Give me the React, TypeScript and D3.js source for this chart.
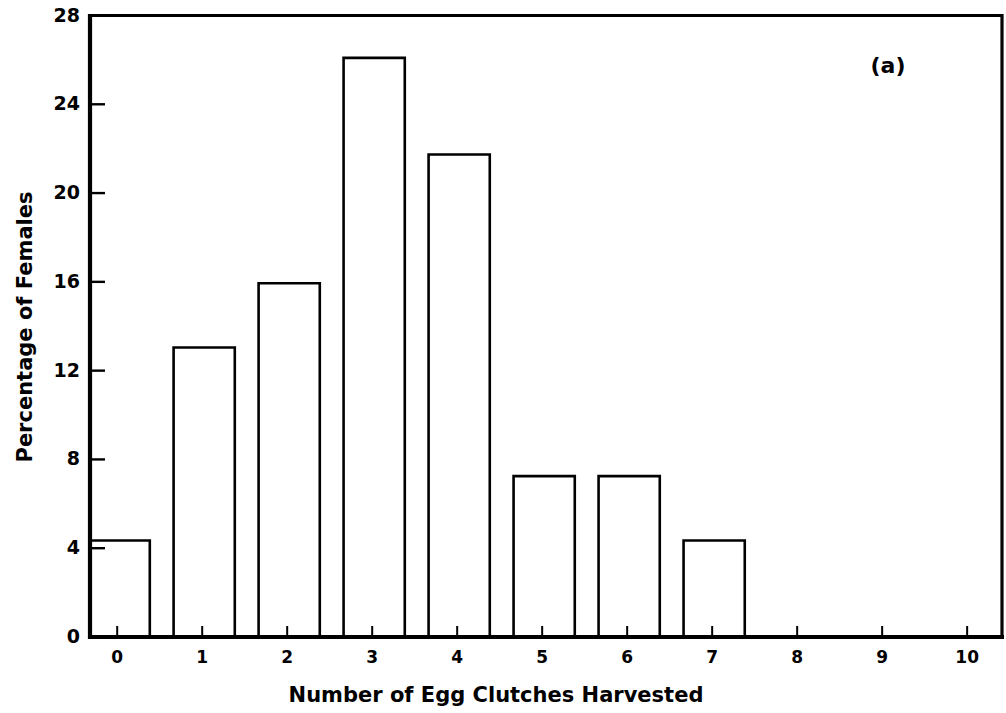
import React from "react";
import * as d3 from "d3";

// Number of egg clutches harvested per female (0–10) and the share of females in each class
const clutchCounts = [0, 1, 2, 3, 4, 5, 6, 7, 8, 9, 10];
const percentFemales = [4.35, 13.04, 15.94, 26.09, 21.74, 7.25, 7.25, 4.35, 0, 0, 0];
const yTickValues = [0, 4, 8, 12, 16, 20, 24, 28];
const xTickLabels = ["0", "1", "2", "3", "4", "5", "6", "7", "8", "9", "10"];

const W = 1006;
const H = 713;
const left = 90;
const right = 1002;
const bottom = 637;
const barHalf = 0.36;
const barShift = 2; // bars sit a touch right of their tick marks
const font = "'DejaVu Sans', sans-serif";

export default function App() {
  const x = d3.scaleLinear().domain([-0.32, 10.41]).range([left, right]);
  const y = d3.scaleLinear().domain([0, 28]).range([bottom, 15.5]);
  const top = y(28);

  return (
    <svg
      width={W}
      height={H}
      style={{ position: "absolute", left: 0, top: 0, background: "#fff" }}
    >
      <rect x={0} y={0} width={W} height={H} fill="#fff" />

      {/* bars */}
      {clutchCounts.map((c, i) => {
        const v = percentFemales[i];
        const x0 = Math.max(x(c - barHalf) + barShift, left);
        const x1 = x(c + barHalf) + barShift;
        return (
          <path
            key={c}
            d={`M${x0},${bottom} V${y(v)} H${x1} V${bottom}`}
            fill="none"
            stroke="#000"
            strokeWidth={2.6}
          />
        );
      })}

      {/* frame */}
      <line x1={left} x2={right} y1={top} y2={top} stroke="#000" strokeWidth={3} />
      <line x1={right} x2={right} y1={top - 1.5} y2={bottom} stroke="#000" strokeWidth={3.2} />
      <line x1={left} x2={left} y1={top - 1.5} y2={bottom + 2} stroke="#000" strokeWidth={4.2} />
      <line x1={left - 2} x2={right + 2} y1={bottom} y2={bottom} stroke="#000" strokeWidth={4.2} />

      {/* y ticks */}
      {yTickValues
        .filter((t) => t > 0 && t < 28)
        .map((t) => (
          <line key={t} x1={left} x2={left + 15} y1={y(t)} y2={y(t)} stroke="#000" strokeWidth={2.4} />
        ))}
      {yTickValues.map((t) => (
        <text
          key={t}
          x={80}
          y={y(t) - 1}
          textAnchor="end"
          dominantBaseline="central"
          fontFamily={font}
          fontWeight="bold"
          fontSize={19}
        >
          {t}
        </text>
      ))}

      {/* x ticks */}
      {clutchCounts.map((c, i) => (
        <g key={c}>
          <line x1={x(c)} x2={x(c)} y1={bottom} y2={bottom - 11} stroke="#000" strokeWidth={2} />
          <text
            x={x(c)}
            y={657}
            textAnchor="middle"
            dominantBaseline="central"
            fontFamily={font}
            fontWeight="bold"
            fontSize={17}
          >
            {xTickLabels[i]}
          </text>
        </g>
      ))}

      {/* axis titles */}
      <text
        x={496}
        y={702}
        textAnchor="middle"
        fontFamily={font}
        fontWeight="bold"
        fontSize={21}
      >
        Number of Egg Clutches Harvested
      </text>
      <text
        transform={`translate(32,327) rotate(-90)`}
        textAnchor="middle"
        fontFamily={font}
        fontWeight="bold"
        fontSize={21}
      >
        Percentage of Females
      </text>

      {/* panel label */}
      <text
        x={888}
        y={65}
        textAnchor="middle"
        dominantBaseline="central"
        fontFamily={font}
        fontWeight="bold"
        fontSize={22}
      >
        (a)
      </text>
    </svg>
  );
}
